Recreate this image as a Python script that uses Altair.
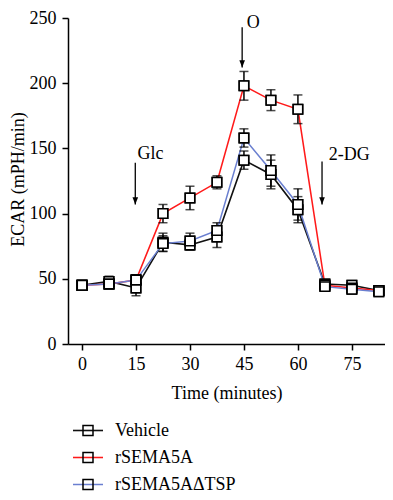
import altair as alt
import pandas as pd

times = [0, 7.5, 15, 22.5, 30, 37.5, 45, 52.5, 60, 67.5, 75, 82.5]
series_names = ["Vehicle", "rSEMA5A", "rSEMA5AΔTSP"]
series_colors = ["#111111", "#ff1a1a", "#6a7fd0"]
series_widths = [1.6, 1.5, 1.0]

vehicle = [45, 48, 43, 78, 76, 82, 141, 130, 103, 46, 45, 41]
vehicle_err = [0.5, 4, 6, 7, 4, 8, 7, 11, 10, 3, 3, 3]
rsema5a = [45, 46, 49, 100, 112, 124, 198, 187, 180, 45, 43, 41]
rsema5a_err = [0.5, 3, 4, 7, 9, 5, 11, 8, 11, 3, 3, 3]
rsema5a_tsp = [45, 46, 49, 77, 79, 87, 158, 133, 107, 44, 42, 40]
rsema5a_tsp_err = [0.5, 3, 4, 6, 6, 6, 7, 12, 12, 3, 3, 3]

ann_labels = ["Glc", "O", "2-DG"]
ann_x = [14.8, 44.5, 66.7]
ann_top = [139, 243, 140]
ann_tip = [107, 212, 107]
ann_text_x = [15.4, 45.8, 68.6]
ann_text_y = [142, 242, 141]

FONT = "Liberation Serif, Times New Roman, Times, serif"
FS = 18

rows = []
for name, means, errs in zip(series_names,
                             [vehicle, rsema5a, rsema5a_tsp],
                             [vehicle_err, rsema5a_err, rsema5a_tsp_err]):
    for t, m, e in zip(times, means, errs):
        rows.append(dict(series=name, marker=name + " ", t=t, mean=m,
                         lo=m - e, hi=m + e))
df = pd.DataFrame(rows)
marker_names = [n + " " for n in series_names]

ann = pd.DataFrame(dict(label=ann_labels, x=ann_x, top=ann_top, tip=ann_tip,
                        tx=ann_text_x, ty=ann_text_y))

xscale = alt.Scale(domain=[-3.9, 84.2], nice=False, zero=False)
yscale = alt.Scale(domain=[0, 250], nice=False)

x_axis = alt.Axis(values=[0, 15, 30, 45, 60, 75], grid=False, title="Time (minutes)",
                  domainColor="black", tickColor="black", domainWidth=1.5, tickWidth=1.5,
                  tickSize=6, labelFont=FONT, labelFontSize=FS, labelColor="black",
                  labelPadding=5, titleFont=FONT, titleFontSize=FS, titleFontWeight="normal",
                  titleColor="black", titlePadding=11, labelFlush=False)
y_axis = alt.Axis(values=[0, 50, 100, 150, 200, 250], grid=False, title="ECAR (mPH/min)",
                  domainColor="black", tickColor="black", domainWidth=1.5, tickWidth=1.5,
                  tickSize=6, labelFont=FONT, labelFontSize=FS, labelColor="black",
                  labelPadding=6, titleFont=FONT, titleFontSize=FS, titleFontWeight="normal",
                  titleColor="black", titleX=-41, titleY=161)

LEG_X = 11
LEG_Y = 403.5

base = alt.Chart(df)

lines = base.mark_line().encode(
    x=alt.X("t:Q", scale=xscale, axis=x_axis),
    y=alt.Y("mean:Q", scale=yscale, axis=y_axis),
    color=alt.Color("series:N", scale=alt.Scale(domain=series_names, range=series_colors),
                    legend=alt.Legend(orient="none", legendX=LEG_X, legendY=LEG_Y, title=None,
                                      symbolType="M-3,0H3", symbolSize=100,
                                      symbolStrokeWidth=1.5, labelFont=FONT,
                                      labelFontSize=FS, labelColor="black", labelOffset=18,
                                      rowPadding=9, padding=0)),
    strokeWidth=alt.StrokeWidth("series:N", scale=alt.Scale(domain=series_names,
                                                            range=series_widths),
                                legend=None),
)

# hollow squares: provide the square symbols of the legend (covered in the plot)
legend_squares = base.mark_point(shape="square", filled=False, size=90, strokeWidth=1.5,
                                 opacity=1).encode(
    x=alt.X("t:Q", scale=xscale),
    y=alt.Y("mean:Q", scale=yscale),
    stroke=alt.Stroke("marker:N", scale=alt.Scale(domain=marker_names,
                                                  range=["black", "black", "black"]),
                      legend=alt.Legend(orient="none", legendX=LEG_X, legendY=LEG_Y,
                                        title=None, symbolType="square", symbolSize=100,
                                        symbolStrokeWidth=1.5, labelFont=FONT,
                                        labelFontSize=FS, labelColor="transparent",
                                        labelOffset=18, rowPadding=9, padding=0)),
)

err_rule = base.mark_rule(color="black", strokeWidth=1.5).encode(
    x=alt.X("t:Q", scale=xscale), y=alt.Y("lo:Q", scale=yscale), y2="hi:Q")
cap_lo = base.mark_tick(color="black", orient="horizontal", size=9, thickness=1.5).encode(
    x=alt.X("t:Q", scale=xscale), y=alt.Y("lo:Q", scale=yscale))
cap_hi = base.mark_tick(color="black", orient="horizontal", size=9, thickness=1.5).encode(
    x=alt.X("t:Q", scale=xscale), y=alt.Y("hi:Q", scale=yscale))

points = base.mark_point(shape="square", fill="white", stroke="black", strokeWidth=1.5,
                         size=90, opacity=1, fillOpacity=1).encode(
    x=alt.X("t:Q", scale=xscale),
    y=alt.Y("mean:Q", scale=yscale),
)

arrow_rule = alt.Chart(ann).mark_rule(color="black", strokeWidth=1.3).encode(
    x=alt.X("x:Q", scale=xscale), y=alt.Y("top:Q", scale=yscale), y2="tip:Q")
arrow_head = alt.Chart(ann).mark_point(shape="M-1.4,-3.6L1.4,-3.6L0,0Z", filled=True,
                                       color="black", size=16, opacity=1).encode(
    x=alt.X("x:Q", scale=xscale), y=alt.Y("tip:Q", scale=yscale))
ann_text = alt.Chart(ann).mark_text(align="left", baseline="alphabetic", font=FONT,
                                    fontSize=FS, color="black").encode(
    x=alt.X("tx:Q", scale=xscale), y=alt.Y("ty:Q", scale=yscale), text="label:N")

chart = alt.layer(lines, legend_squares, err_rule, cap_lo, cap_hi, points, arrow_rule,
                  arrow_head, ann_text).properties(
    width=317, height=326,
    autosize=alt.AutoSizeParams(type="none"),
    padding={"left": 60, "top": 10, "right": 0, "bottom": 148},
).configure_view(stroke=None)

chart.save("out.html", embed_options={"renderer": "svg", "actions": False})
